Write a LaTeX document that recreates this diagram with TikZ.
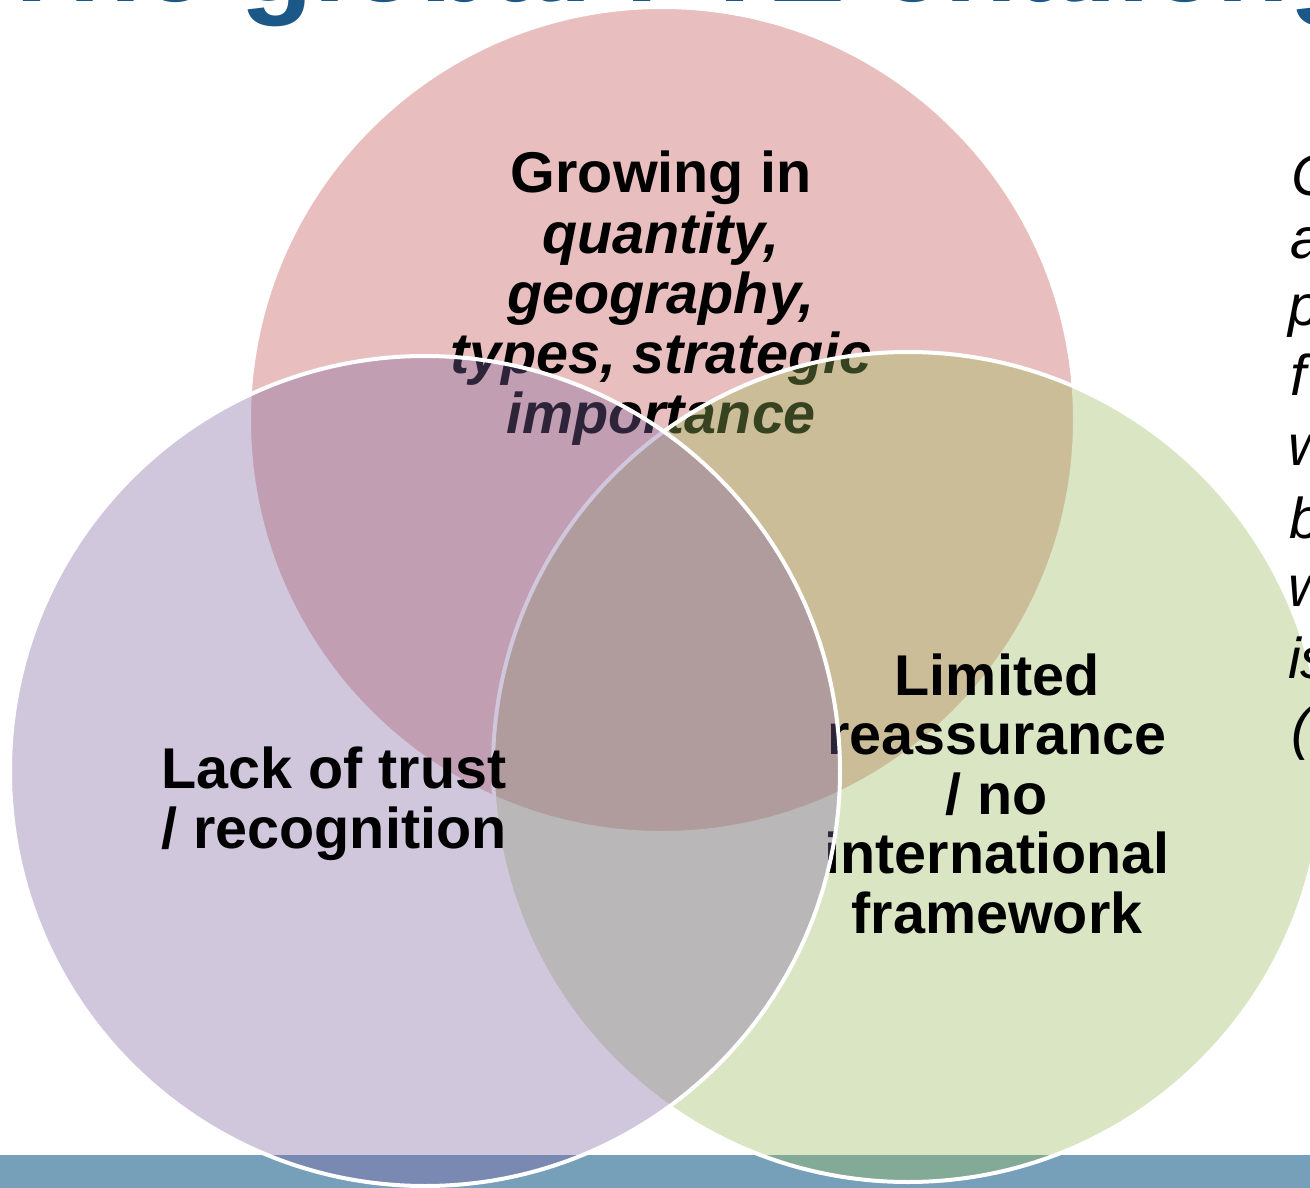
\documentclass[tikz,border=0pt]{standalone}
\usepackage{fontspec}
\setmainfont{Liberation Sans}
\definecolor{redc}{HTML}{C0504D}
\definecolor{purc}{HTML}{8064A2}
\definecolor{grnc}{HTML}{9BBB59}
\definecolor{barc}{HTML}{769FBA}
\definecolor{titleblue}{HTML}{1B5887}
\begin{document}
\begin{tikzpicture}[x=1pt,y=-1pt,
  venn/.style={draw=white, line width=4pt, fill opacity=0.36},
  lbl/.style={font=\bfseries\fontsize{57.5}{60}\selectfont, anchor=base, inner sep=0pt, text=black},
  lbli/.style={font=\bfseries\itshape\fontsize{57.5}{60}\selectfont, anchor=base, inner sep=0pt, text=black},
  side/.style={font=\itshape\fontsize{57.5}{69}\selectfont, anchor=base west, inner sep=0pt, text=black},
  titlestyle/.style={font=\bfseries\fontsize{119.5}{130}\selectfont, anchor=base west, inner sep=0pt, text=titleblue}]
\useasboundingbox (0,0) rectangle (1310,1188);
\clip (0,0) rectangle (1310,1188);
\fill[white] (0,0) rectangle (1310,1188);
% bottom bar
\fill[barc] (0,1155) rectangle (1310,1188);
% title (cut off at the top)
\node[titlestyle] (title) at (-5,2) {The global FTZ challenge};
% centres
\coordinate (cr) at (662,420);
\coordinate (cg) at (908,767);
\coordinate (cp) at (425,771);
% red circle and text
\path[venn, fill=redc] (cr) circle[radius=413];
\node[lbl]  (r1) at (661,193) {Growing in};
\node[lbli] (r2) at (661,253) {quantity,};
\node[lbli] (r3) at (661,313) {geography,};
\node[lbli] (r4) at (661,373) {types, strategic};
\node[lbli] (r5) at (661,433) {importance};
% green circle and text
\path[venn, fill=grnc] (cg) circle[radius=415];
\node[lbl] (g1) at (997,695) {Limited};
\node[lbl] (g2) at (997,754) {reassurance};
\node[lbl] (g3) at (997,814) {/ no};
\node[lbl] (g4) at (997,873) {international};
\node[lbl] (g5) at (997,933) {framework};
% purple circle and text
\path[venn, fill=purc] (cp) circle[radius=415];
\node[lbl] (p1) at (334,788) {Lack of trust};
\node[lbl] (p2) at (334,848) {/ recognition};
% right-hand text, cut off by the edge
\node[side] (s1) at (1291,196) {C};
\node[side] (s2) at (1290,258) {a};
\node[side] (s3) at (1288,325) {p};
\node[side] (s4) at (1290,395) {f};
\node[side] (s5) at (1288,465) {w};
\node[side] (s6) at (1289,538) {b};
\node[side] (s7) at (1288,606) {w};
\node[side] (s8) at (1288,678) {is};
\node[side] (s9) at (1291,748) {(};
\end{tikzpicture}
\end{document}
